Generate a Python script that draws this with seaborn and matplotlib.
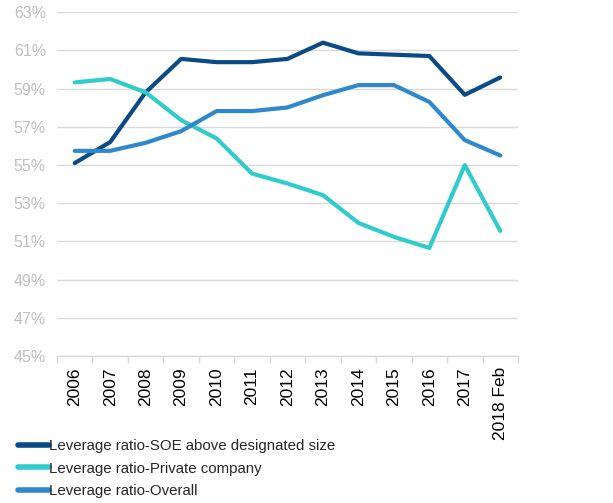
import matplotlib
matplotlib.use("Agg")
import matplotlib.pyplot as plt
import seaborn as sns
import pandas as pd
import numpy as np
from matplotlib.lines import Line2D
from matplotlib.ticker import FixedLocator

categories = ["2006", "2007", "2008", "2009", "2010", "2011", "2012",
              "2013", "2014", "2015", "2016", "2017", "2018 Feb"]
soe = [55.1, 56.2, 58.8, 60.55, 60.38, 60.38, 60.55, 61.4, 60.84, 60.77, 60.7, 58.67, 59.58]
private = [59.32, 59.5, 58.8, 57.35, 56.39, 54.55, 54.03, 53.42, 51.97, 51.24, 50.66, 54.99, 51.55]
overall = [55.74, 55.74, 56.16, 56.77, 57.82, 57.82, 58.01, 58.65, 59.18, 59.18, 58.3, 56.3, 55.5]
series_names = ["Leverage ratio-SOE above designated size",
                "Leverage ratio-Private company",
                "Leverage ratio-Overall"]
yticks = [45, 47, 49, 51, 53, 55, 57, 59, 61, 63]

colors = ["#0a4a85", "#30cccc", "#2f88cc"]

sns.set_theme(style="white")
plt.rcParams['font.family'] = ['Liberation Sans', 'DejaVu Sans']

rows = []
for name, vals in zip(series_names, [soe, private, overall]):
    for i, (c, v) in enumerate(zip(categories, vals)):
        rows.append({"idx": i, "cat": c, "value": v, "series": name})
df = pd.DataFrame(rows)

fig = plt.figure(figsize=(6.13, 5.03), dpi=100)
ax = fig.add_axes([0.093, 0.292, 0.752, 0.684])

sns.lineplot(data=df, x="idx", y="value", hue="series", hue_order=series_names,
             palette=colors, linewidth=3.0, ax=ax, legend=False,
             solid_capstyle="round", solid_joinstyle="round")

ax.set_xlim(-0.5, len(categories) - 0.5)
ax.set_ylim(45, 63)
ax.set_yticks(yticks)
ax.set_yticklabels([f"{t}%" for t in yticks], color="#bfbfbf", fontsize=11.5)
ax.set_xticks(range(len(categories)))
ax.set_xticklabels(categories, rotation=90, fontsize=12.5, color="black")
ax.xaxis.set_minor_locator(FixedLocator(np.arange(-0.5, len(categories), 1.0)))
ax.tick_params(axis="x", which="major", length=0, pad=8)
ax.tick_params(axis="x", which="minor", length=5, color="#d9d9d9", width=1, bottom=True)
ax.tick_params(axis="y", length=0, pad=8)
ax.set_xlabel("")
ax.set_ylabel("")
ax.grid(axis="y", color="#d9d9d9", linewidth=1)
ax.set_axisbelow(True)
for s in ["left", "right", "top"]:
    ax.spines[s].set_visible(False)
ax.spines["bottom"].set_color("#d9d9d9")
ax.spines["bottom"].set_linewidth(1)

handles = [Line2D([0], [0], color=c, linewidth=4, solid_capstyle="round") for c in colors]
fig.legend(handles, series_names, loc="upper left", bbox_to_anchor=(0.029, 0.127),
           frameon=False, fontsize=10.8, handlelength=2.1, handletextpad=0.0,
           labelspacing=0.57, borderaxespad=0, borderpad=0)

fig.savefig("out.png", dpi=100)
